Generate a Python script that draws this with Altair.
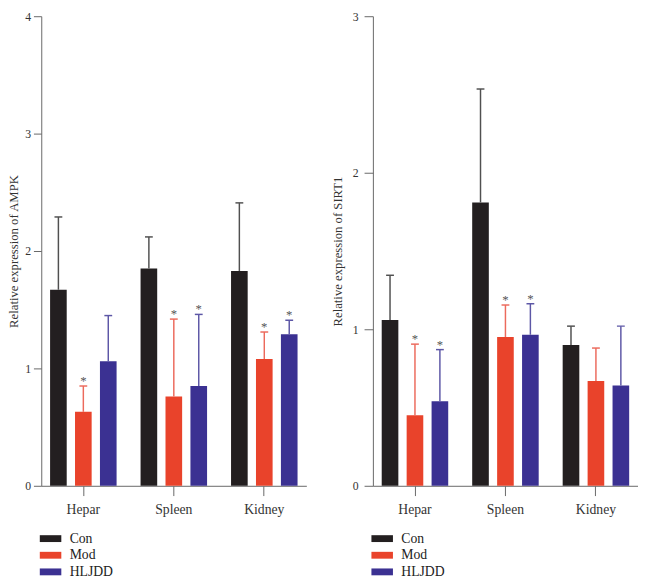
import altair as alt
import pandas as pd

groups = ["Hepar", "Spleen", "Kidney"]
series = ["Con", "Mod", "HLJDD"]

# AMPK (left panel)
ampk_con = [1.67, 1.85, 1.83]
ampk_mod = [0.63, 0.76, 1.08]
ampk_hljdd = [1.06, 0.85, 1.29]
ampk_con_err = [0.62, 0.27, 0.58]
ampk_mod_err = [0.22, 0.66, 0.23]
ampk_hljdd_err = [0.39, 0.61, 0.12]
ampk_con_sig = [False, False, False]
ampk_mod_sig = [True, True, True]
ampk_hljdd_sig = [False, True, True]

# SIRT1 (right panel)
sirt1_con = [1.06, 1.81, 0.90]
sirt1_mod = [0.45, 0.95, 0.67]
sirt1_hljdd = [0.54, 0.965, 0.64]
sirt1_con_err = [0.285, 0.725, 0.12]
sirt1_mod_err = [0.455, 0.205, 0.21]
sirt1_hljdd_err = [0.33, 0.198, 0.38]
sirt1_con_sig = [False, False, False]
sirt1_mod_sig = [True, True, False]
sirt1_hljdd_sig = [True, True, False]

bar_colors = ["#231f20", "#e9432b", "#3b3192"]
err_colors = ["#505050", "#ec6a5c", "#5d57a6"]

FONT = "Liberation Serif"


def build_df(means, errs, sigs):
    rows = []
    for s, m, e, g in zip(series, means, errs, sigs):
        for grp, mv, ev, sv in zip(groups, m, e, g):
            rows.append({"group": grp, "series": s, "mean": mv, "err": ev, "sig": sv})
    return pd.DataFrame(rows)


ampk_df = build_df([ampk_con, ampk_mod, ampk_hljdd],
                   [ampk_con_err, ampk_mod_err, ampk_hljdd_err],
                   [ampk_con_sig, ampk_mod_sig, ampk_hljdd_sig])
sirt1_df = build_df([sirt1_con, sirt1_mod, sirt1_hljdd],
                    [sirt1_con_err, sirt1_mod_err, sirt1_hljdd_err],
                    [sirt1_con_sig, sirt1_mod_sig, sirt1_hljdd_sig])

LEGEND_PATH = "M-3.143,-1H3.143V1H-3.143Z"


def panel(df, ymax, ytitle, tick, lpad, tpad):
    base = alt.Chart(df).transform_calculate(upper="datum.mean + datum.err")
    x = alt.X("group:N", sort=groups, title=None,
              scale=alt.Scale(paddingInner=0.265, paddingOuter=0.0975),
              axis=alt.Axis(labelAngle=0, tickSize=10, labelPadding=7,
                            labelFontSize=14, labelFont=FONT))
    xo = alt.XOffset("series:N", sort=series,
                     scale=alt.Scale(paddingInner=0.333, paddingOuter=0))
    yscale = alt.Scale(domain=[0, ymax], nice=False)
    yaxis = alt.Axis(values=list(range(ymax + 1)), format="d", tickSize=tick,
                     labelPadding=lpad, titlePadding=tpad, labelFontSize=12,
                     titleFontSize=13, labelFont=FONT, titleFont=FONT,
                     titleFontWeight="normal")

    bars = base.mark_bar().encode(
        x=x, xOffset=xo,
        y=alt.Y("mean:Q", scale=yscale, axis=yaxis, title=ytitle),
        color=alt.Color("series:N", sort=series,
                        scale=alt.Scale(domain=series, range=bar_colors),
                        legend=alt.Legend(title=None, orient="none", legendX=2.5,
                                          legendY=527, symbolType=LEGEND_PATH,
                                          symbolSize=49, symbolStrokeWidth=0,
                                          symbolOpacity=1,
                                          labelFontSize=14, labelFont=FONT,
                                          labelColor="#222", labelOffset=12.5,
                                          rowPadding=3, padding=0)),
    )
    rules = base.mark_rule(strokeWidth=1.5).encode(
        x=x, xOffset=xo,
        y=alt.Y("mean:Q", scale=yscale, axis=yaxis, title=ytitle),
        y2="upper:Q",
        stroke=alt.Stroke("series:N", sort=series,
                          scale=alt.Scale(domain=series, range=err_colors),
                          legend=None),
    )
    caps = base.mark_tick(size=8, thickness=1.5, opacity=1).encode(
        x=x, xOffset=xo,
        y=alt.Y("upper:Q", scale=yscale, axis=yaxis, title=ytitle),
        fill=alt.Fill("series:N", sort=series,
                      scale=alt.Scale(domain=series, range=err_colors),
                      legend=None),
    )
    stars = base.transform_filter("datum.sig").mark_text(
        text="*", fontSize=13, font=FONT, color="#555", baseline="alphabetic", dy=-1
    ).encode(
        x=x, xOffset=xo,
        y=alt.Y("upper:Q", scale=yscale, axis=yaxis, title=ytitle),
    )
    return alt.layer(bars, rules, caps, stars).properties(width=271, height=480)


left = panel(ampk_df, 4, "Relative expression of AMPK", 8, 3, 4)
right = panel(sirt1_df, 3, "Relative expression of SIRT1", 9, 6, 8)

chart = alt.hconcat(left, right, spacing=26).resolve_scale(
    y="independent", color="independent", stroke="independent", fill="independent"
).resolve_legend(color="independent").properties(
    padding={"left": 0, "top": -4, "right": 0, "bottom": 0}
).configure_axis(
    domainColor="#666", tickColor="#666", labelColor="#333", titleColor="#333",
    grid=False
).configure_view(stroke=None)

chart.save("out.html", embed_options={"renderer": "svg", "actions": False})
